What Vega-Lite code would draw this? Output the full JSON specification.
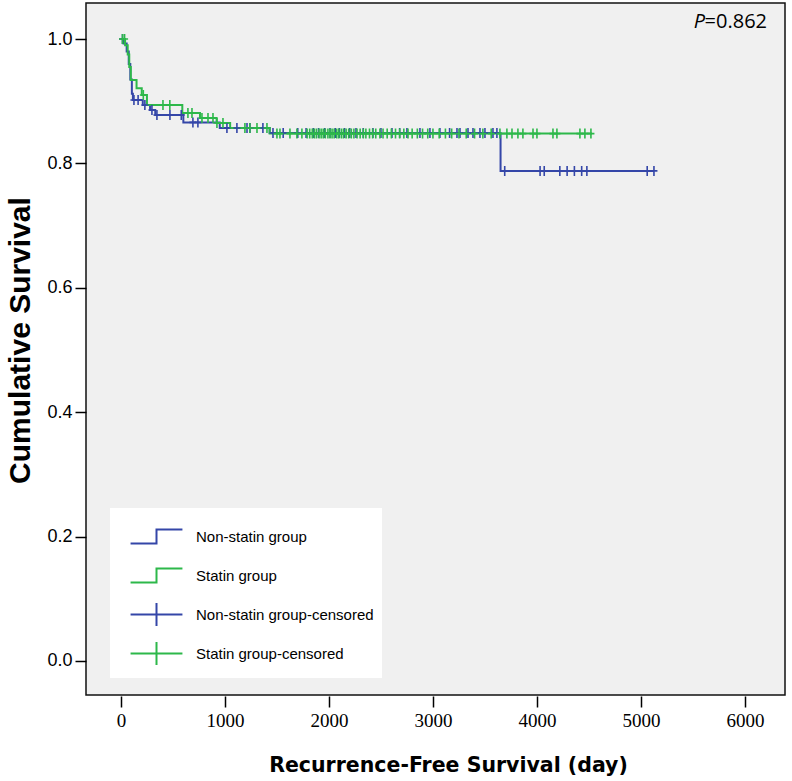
{
  "$schema": "https://vega.github.io/schema/vega-lite/v6.json",
  "width": 699,
  "height": 692,
  "autosize": {"type": "none"},
  "padding": {"left": 86, "top": 3, "right": 7, "bottom": 86},
  "background": "white",
  "config": {
    "view": {"stroke": "#111111", "strokeWidth": 1.5, "fill": "#f0f0f0"},
    "axis": {"grid": false, "domain": false, "tickColor": "#000000", "tickWidth": 1.5, "labelColor": "#000000", "titleColor": "#000000"}
  },
  "data": {
    "values": [
      {"series": "Non-statin group", "day": 0, "survival": 1.0},
      {"series": "Non-statin group", "day": 25, "survival": 0.993},
      {"series": "Non-statin group", "day": 55, "survival": 0.98},
      {"series": "Non-statin group", "day": 75, "survival": 0.96},
      {"series": "Non-statin group", "day": 90, "survival": 0.935},
      {"series": "Non-statin group", "day": 105, "survival": 0.912},
      {"series": "Non-statin group", "day": 115, "survival": 0.902},
      {"series": "Non-statin group", "day": 210, "survival": 0.894},
      {"series": "Non-statin group", "day": 280, "survival": 0.886},
      {"series": "Non-statin group", "day": 330, "survival": 0.878},
      {"series": "Non-statin group", "day": 600, "survival": 0.866},
      {"series": "Non-statin group", "day": 950, "survival": 0.857},
      {"series": "Non-statin group", "day": 1430, "survival": 0.849},
      {"series": "Non-statin group", "day": 3650, "survival": 0.788},
      {"series": "Non-statin group", "day": 5125, "survival": 0.788},
      {"series": "Statin group", "day": 0, "survival": 1.0},
      {"series": "Statin group", "day": 40, "survival": 0.99},
      {"series": "Statin group", "day": 65, "survival": 0.975},
      {"series": "Statin group", "day": 80, "survival": 0.955},
      {"series": "Statin group", "day": 95, "survival": 0.934},
      {"series": "Statin group", "day": 150, "survival": 0.921},
      {"series": "Statin group", "day": 200, "survival": 0.91},
      {"series": "Statin group", "day": 250, "survival": 0.894},
      {"series": "Statin group", "day": 590, "survival": 0.881},
      {"series": "Statin group", "day": 760, "survival": 0.873},
      {"series": "Statin group", "day": 920, "survival": 0.865},
      {"series": "Statin group", "day": 1050, "survival": 0.857},
      {"series": "Statin group", "day": 1430, "survival": 0.848},
      {"series": "Statin group", "day": 4530, "survival": 0.848},
      {"series": "Non-statin group-censored", "day": 15, "survival": 1.0},
      {"series": "Non-statin group-censored", "day": 125, "survival": 0.902},
      {"series": "Non-statin group-censored", "day": 165, "survival": 0.902},
      {"series": "Non-statin group-censored", "day": 230, "survival": 0.894},
      {"series": "Non-statin group-censored", "day": 298, "survival": 0.886},
      {"series": "Non-statin group-censored", "day": 346, "survival": 0.878},
      {"series": "Non-statin group-censored", "day": 471, "survival": 0.878},
      {"series": "Non-statin group-censored", "day": 580, "survival": 0.878},
      {"series": "Non-statin group-censored", "day": 692, "survival": 0.866},
      {"series": "Non-statin group-censored", "day": 740, "survival": 0.866},
      {"series": "Non-statin group-censored", "day": 1019, "survival": 0.857},
      {"series": "Non-statin group-censored", "day": 1115, "survival": 0.857},
      {"series": "Non-statin group-censored", "day": 1212, "survival": 0.857},
      {"series": "Non-statin group-censored", "day": 1240, "survival": 0.857},
      {"series": "Non-statin group-censored", "day": 1365, "survival": 0.857},
      {"series": "Non-statin group-censored", "day": 1462, "survival": 0.849},
      {"series": "Non-statin group-censored", "day": 1560, "survival": 0.849},
      {"series": "Non-statin group-censored", "day": 1700, "survival": 0.849},
      {"series": "Non-statin group-censored", "day": 1780, "survival": 0.849},
      {"series": "Non-statin group-censored", "day": 1850, "survival": 0.849},
      {"series": "Non-statin group-censored", "day": 1900, "survival": 0.849},
      {"series": "Non-statin group-censored", "day": 1960, "survival": 0.849},
      {"series": "Non-statin group-censored", "day": 2010, "survival": 0.849},
      {"series": "Non-statin group-censored", "day": 2060, "survival": 0.849},
      {"series": "Non-statin group-censored", "day": 2100, "survival": 0.849},
      {"series": "Non-statin group-censored", "day": 2150, "survival": 0.849},
      {"series": "Non-statin group-censored", "day": 2200, "survival": 0.849},
      {"series": "Non-statin group-censored", "day": 2260, "survival": 0.849},
      {"series": "Non-statin group-censored", "day": 2330, "survival": 0.849},
      {"series": "Non-statin group-censored", "day": 2423, "survival": 0.849},
      {"series": "Non-statin group-censored", "day": 2500, "survival": 0.849},
      {"series": "Non-statin group-censored", "day": 2606, "survival": 0.849},
      {"series": "Non-statin group-censored", "day": 2680, "survival": 0.849},
      {"series": "Non-statin group-censored", "day": 2750, "survival": 0.849},
      {"series": "Non-statin group-censored", "day": 2875, "survival": 0.849},
      {"series": "Non-statin group-censored", "day": 2971, "survival": 0.849},
      {"series": "Non-statin group-censored", "day": 3067, "survival": 0.849},
      {"series": "Non-statin group-censored", "day": 3160, "survival": 0.849},
      {"series": "Non-statin group-censored", "day": 3231, "survival": 0.849},
      {"series": "Non-statin group-censored", "day": 3260, "survival": 0.849},
      {"series": "Non-statin group-censored", "day": 3337, "survival": 0.849},
      {"series": "Non-statin group-censored", "day": 3385, "survival": 0.849},
      {"series": "Non-statin group-censored", "day": 3452, "survival": 0.849},
      {"series": "Non-statin group-censored", "day": 3500, "survival": 0.849},
      {"series": "Non-statin group-censored", "day": 3577, "survival": 0.849},
      {"series": "Non-statin group-censored", "day": 3615, "survival": 0.849},
      {"series": "Non-statin group-censored", "day": 3690, "survival": 0.788},
      {"series": "Non-statin group-censored", "day": 4030, "survival": 0.788},
      {"series": "Non-statin group-censored", "day": 4070, "survival": 0.788},
      {"series": "Non-statin group-censored", "day": 4220, "survival": 0.788},
      {"series": "Non-statin group-censored", "day": 4290, "survival": 0.788},
      {"series": "Non-statin group-censored", "day": 4360, "survival": 0.788},
      {"series": "Non-statin group-censored", "day": 4430, "survival": 0.788},
      {"series": "Non-statin group-censored", "day": 4480, "survival": 0.788},
      {"series": "Non-statin group-censored", "day": 5060, "survival": 0.788},
      {"series": "Non-statin group-censored", "day": 5125, "survival": 0.788},
      {"series": "Statin group-censored", "day": 15, "survival": 1.0},
      {"series": "Statin group-censored", "day": 35, "survival": 1.0},
      {"series": "Statin group-censored", "day": 215, "survival": 0.91},
      {"series": "Statin group-censored", "day": 404, "survival": 0.894},
      {"series": "Statin group-censored", "day": 470, "survival": 0.894},
      {"series": "Statin group-censored", "day": 644, "survival": 0.881},
      {"series": "Statin group-censored", "day": 683, "survival": 0.881},
      {"series": "Statin group-censored", "day": 779, "survival": 0.873},
      {"series": "Statin group-censored", "day": 837, "survival": 0.873},
      {"series": "Statin group-censored", "day": 885, "survival": 0.873},
      {"series": "Statin group-censored", "day": 923, "survival": 0.865},
      {"series": "Statin group-censored", "day": 981, "survival": 0.865},
      {"series": "Statin group-censored", "day": 1192, "survival": 0.857},
      {"series": "Statin group-censored", "day": 1240, "survival": 0.857},
      {"series": "Statin group-censored", "day": 1308, "survival": 0.857},
      {"series": "Statin group-censored", "day": 1404, "survival": 0.857},
      {"series": "Statin group-censored", "day": 1500, "survival": 0.848},
      {"series": "Statin group-censored", "day": 1529, "survival": 0.848},
      {"series": "Statin group-censored", "day": 1625, "survival": 0.848},
      {"series": "Statin group-censored", "day": 1692, "survival": 0.848},
      {"series": "Statin group-censored", "day": 1740, "survival": 0.848},
      {"series": "Statin group-censored", "day": 1790, "survival": 0.848},
      {"series": "Statin group-censored", "day": 1815, "survival": 0.848},
      {"series": "Statin group-censored", "day": 1840, "survival": 0.848},
      {"series": "Statin group-censored", "day": 1860, "survival": 0.848},
      {"series": "Statin group-censored", "day": 1880, "survival": 0.848},
      {"series": "Statin group-censored", "day": 1905, "survival": 0.848},
      {"series": "Statin group-censored", "day": 1925, "survival": 0.848},
      {"series": "Statin group-censored", "day": 1945, "survival": 0.848},
      {"series": "Statin group-censored", "day": 1965, "survival": 0.848},
      {"series": "Statin group-censored", "day": 1990, "survival": 0.848},
      {"series": "Statin group-censored", "day": 2010, "survival": 0.848},
      {"series": "Statin group-censored", "day": 2030, "survival": 0.848},
      {"series": "Statin group-censored", "day": 2050, "survival": 0.848},
      {"series": "Statin group-censored", "day": 2075, "survival": 0.848},
      {"series": "Statin group-censored", "day": 2095, "survival": 0.848},
      {"series": "Statin group-censored", "day": 2120, "survival": 0.848},
      {"series": "Statin group-censored", "day": 2140, "survival": 0.848},
      {"series": "Statin group-censored", "day": 2165, "survival": 0.848},
      {"series": "Statin group-censored", "day": 2190, "survival": 0.848},
      {"series": "Statin group-censored", "day": 2215, "survival": 0.848},
      {"series": "Statin group-censored", "day": 2240, "survival": 0.848},
      {"series": "Statin group-censored", "day": 2270, "survival": 0.848},
      {"series": "Statin group-censored", "day": 2300, "survival": 0.848},
      {"series": "Statin group-censored", "day": 2330, "survival": 0.848},
      {"series": "Statin group-censored", "day": 2355, "survival": 0.848},
      {"series": "Statin group-censored", "day": 2390, "survival": 0.848},
      {"series": "Statin group-censored", "day": 2420, "survival": 0.848},
      {"series": "Statin group-censored", "day": 2450, "survival": 0.848},
      {"series": "Statin group-censored", "day": 2490, "survival": 0.848},
      {"series": "Statin group-censored", "day": 2520, "survival": 0.848},
      {"series": "Statin group-censored", "day": 2560, "survival": 0.848},
      {"series": "Statin group-censored", "day": 2600, "survival": 0.848},
      {"series": "Statin group-censored", "day": 2640, "survival": 0.848},
      {"series": "Statin group-censored", "day": 2680, "survival": 0.848},
      {"series": "Statin group-censored", "day": 2720, "survival": 0.848},
      {"series": "Statin group-censored", "day": 2760, "survival": 0.848},
      {"series": "Statin group-censored", "day": 2800, "survival": 0.848},
      {"series": "Statin group-censored", "day": 2850, "survival": 0.848},
      {"series": "Statin group-censored", "day": 2900, "survival": 0.848},
      {"series": "Statin group-censored", "day": 2950, "survival": 0.848},
      {"series": "Statin group-censored", "day": 3000, "survival": 0.848},
      {"series": "Statin group-censored", "day": 3060, "survival": 0.848},
      {"series": "Statin group-censored", "day": 3120, "survival": 0.848},
      {"series": "Statin group-censored", "day": 3180, "survival": 0.848},
      {"series": "Statin group-censored", "day": 3250, "survival": 0.848},
      {"series": "Statin group-censored", "day": 3320, "survival": 0.848},
      {"series": "Statin group-censored", "day": 3400, "survival": 0.848},
      {"series": "Statin group-censored", "day": 3480, "survival": 0.848},
      {"series": "Statin group-censored", "day": 3560, "survival": 0.848},
      {"series": "Statin group-censored", "day": 3644, "survival": 0.848},
      {"series": "Statin group-censored", "day": 3711, "survival": 0.848},
      {"series": "Statin group-censored", "day": 3760, "survival": 0.848},
      {"series": "Statin group-censored", "day": 3817, "survival": 0.848},
      {"series": "Statin group-censored", "day": 3865, "survival": 0.848},
      {"series": "Statin group-censored", "day": 3962, "survival": 0.848},
      {"series": "Statin group-censored", "day": 4000, "survival": 0.848},
      {"series": "Statin group-censored", "day": 4154, "survival": 0.848},
      {"series": "Statin group-censored", "day": 4192, "survival": 0.848},
      {"series": "Statin group-censored", "day": 4413, "survival": 0.848},
      {"series": "Statin group-censored", "day": 4461, "survival": 0.848},
      {"series": "Statin group-censored", "day": 4519, "survival": 0.848}
    ]
  },
  "encoding": {
    "x": {
      "field": "day", "type": "quantitative",
      "scale": {"domain": [-336, 6385], "nice": false, "zero": false},
      "axis": {
        "values": [0, 1000, 2000, 3000, 4000, 5000, 6000],
        "format": "d",
        "offset": 1, "tickSize": 11,
        "labelFont": "Liberation Sans Narrow", "labelFontSize": 19, "labelPadding": 4,
        "title": "Recurrence-Free Survival (day)",
        "titleFont": "DejaVu Sans", "titleFontSize": 20.5, "titleFontWeight": "bold",
        "titlePadding": 25, "titleX": 362
      }
    },
    "y": {
      "field": "survival", "type": "quantitative",
      "scale": {"domain": [-0.0547, 1.058], "nice": false, "zero": false},
      "axis": {
        "values": [0, 0.2, 0.4, 0.6, 0.8, 1.0],
        "format": ".1f",
        "tickSize": 11,
        "labelFont": "Liberation Sans", "labelFontSize": 18, "labelPadding": 3,
        "title": "Cumulative Survival",
        "titleFont": "Liberation Sans", "titleFontSize": 30, "titleFontWeight": "bold",
        "titlePadding": 11, "titleY": 337
      }
    },
    "color": {
      "field": "series", "type": "nominal",
      "scale": {
        "domain": ["Non-statin group", "Statin group", "Non-statin group-censored", "Statin group-censored"],
        "range": ["#3446a8", "#2db84a", "#3446a8", "#2db84a"]
      },
      "legend": {
        "title": null,
        "orient": "none", "legendX": 24, "legendY": 505,
        "fillColor": "#ffffff", "padding": 8,
        "symbolOffset": 18, "symbolSize": 1521, "labelOffset": 19, "rowPadding": 2,
        "labelFont": "Liberation Sans", "labelFontSize": 15, "labelColor": "#000000", "labelLimit": 400,
        "encode": {
          "symbols": {
            "update": {
              "shape": {"signal": "indexof(datum.value, 'censored') >= 0 ? 'M-1.33,0H1.33M0,-0.59V0.59' : 'M0,-0.59M0,0.59M-1.33,0.36H0V-0.36H1.33'"},
              "strokeWidth": {"value": 2},
              "fill": {"value": "transparent"},
              "size": {"value": 1521}
            }
          }
        }
      }
    }
  },
  "layer": [
    {
      "transform": [{"filter": "indexof(datum.series, 'censored') < 0"}],
      "mark": {"type": "line", "interpolate": "step-after", "strokeWidth": 2, "clip": true}
    },
    {
      "transform": [{"filter": "indexof(datum.series, 'censored') >= 0"}],
      "mark": {"type": "point", "shape": "M-0.7,0H0.7M0,-1V1", "size": 100, "filled": false, "strokeWidth": 1.6, "opacity": 1, "clip": true}
    },
    {
      "transform": [{"filter": "datum.series === 'Statin group' && datum.day === 0"}],
      "mark": {"type": "text", "text": "=0.862", "align": "right", "baseline": "alphabetic", "font": "Open Sans", "fontSize": 20},
      "encoding": {"x": {"datum": 6212}, "y": {"datum": 1.018}, "color": {"value": "#000000"}}
    },
    {
      "transform": [{"filter": "datum.series === 'Statin group' && datum.day === 0"}],
      "mark": {"type": "text", "text": "P", "align": "right", "baseline": "alphabetic", "font": "Open Sans", "fontSize": 20, "fontStyle": "italic", "dx": -62},
      "encoding": {"x": {"datum": 6212}, "y": {"datum": 1.018}, "color": {"value": "#000000"}}
    }
  ]
}
